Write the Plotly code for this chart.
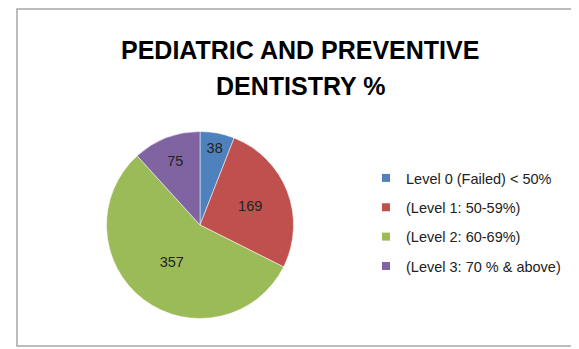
import plotly.graph_objects as go

categories = ["Level 0 (Failed) < 50%", "(Level 1: 50-59%)", "(Level 2: 60-69%)", "(Level 3: 70 % & above)"]
values = [38, 169, 357, 75]
colors = ["#4F81BD", "#C0504D", "#9BBB59", "#8064A2"]
title_lines = ["PEDIATRIC AND PREVENTIVE", "DENTISTRY %"]

W, H = 579, 349
OFF = 8  # page body margin offset
cx, cy, r = 200 - OFF, 225 - OFF, 93.5

fig = go.Figure()
fig.add_trace(go.Pie(
    labels=categories,
    values=values,
    sort=False,
    direction="clockwise",
    rotation=0,
    marker=dict(colors=colors, line=dict(color="white", width=0.5)),
    textinfo="value",
    textposition="inside",
    insidetextorientation="horizontal",
    textfont=dict(family="Liberation Sans, Arial", size=14.5, color="#222222"),
    domain=dict(x=[(cx - r) / W, (cx + r) / W], y=[(H - cy - r) / H, (H - cy + r) / H]),
    hoverinfo="label+value",
    showlegend=False,
))

# legend entries (one group per category so the spacing can follow the reference)
for cat, col in zip(categories, colors):
    fig.add_trace(go.Scatter(
        x=[None], y=[None], mode="markers", name=cat, legendgroup=cat,
        marker=dict(symbol="square", size=8, color=col), hoverinfo="skip",
    ))

title_y = [50 - OFF, 86 - OFF]
annotations = [
    dict(text=f"<b>{t}</b>", x=(300 - OFF) / W, y=(H - yy) / H, xref="paper", yref="paper",
         xanchor="center", yanchor="middle", showarrow=False,
         font=dict(family="Liberation Sans, Arial", size=25, color="#000000"))
    for t, yy in zip(title_lines, title_y)
]

fig.update_layout(
    width=W, height=H,
    margin=dict(l=0, r=0, t=0, b=0),
    paper_bgcolor="white",
    plot_bgcolor="white",
    xaxis=dict(visible=False),
    yaxis=dict(visible=False),
    annotations=annotations,
    showlegend=True,
    legend=dict(x=(366 - OFF) / W, y=(H - (162 - OFF)) / H, xanchor="left", yanchor="top",
                font=dict(family="Liberation Sans, Arial", size=14.5, color="#222222"),
                bgcolor="rgba(0,0,0,0)", itemwidth=30, tracegroupgap=7.5, traceorder="grouped"),
    shapes=[dict(type="rect", xref="paper", yref="paper",
                 x0=(17 - OFF) / W, x1=(572 - OFF) / W, y0=(H - (346 - OFF)) / H, y1=(H - (9 - OFF)) / H,
                 line=dict(color="#a6a6a6", width=1.5), fillcolor="rgba(0,0,0,0)")],
)

fig.write_html("out.html")
